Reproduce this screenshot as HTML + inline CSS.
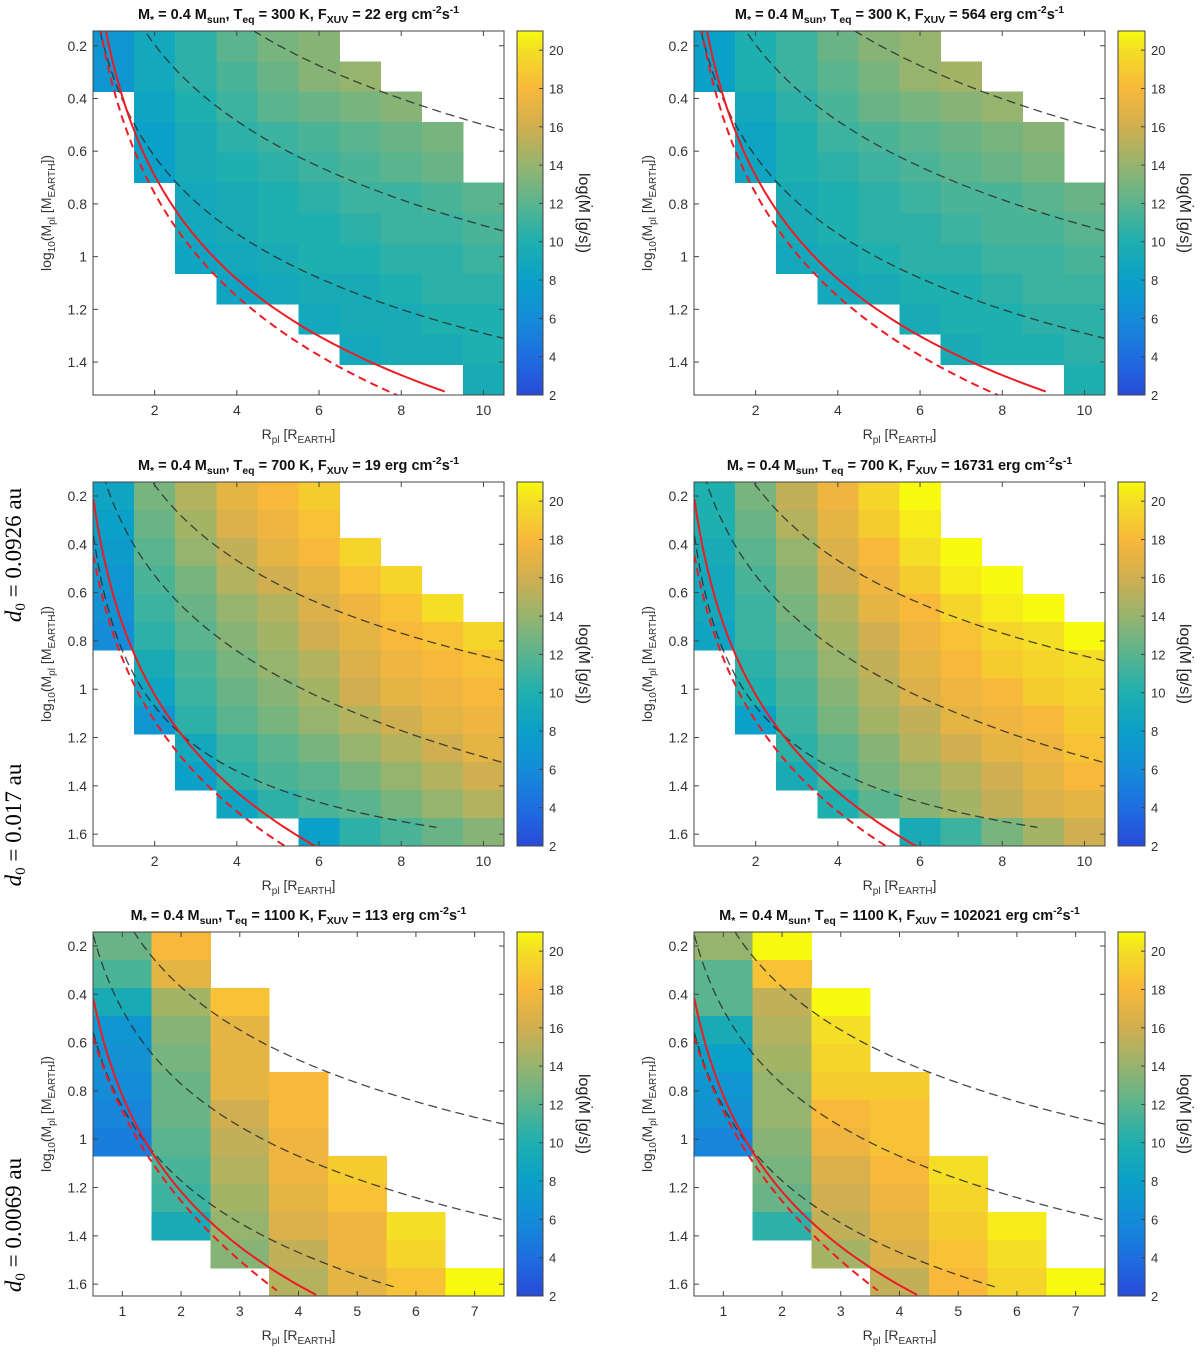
<!DOCTYPE html>
<html><head><meta charset="utf-8"><title>Mass-loss heatmaps</title>
<style>
html,body{margin:0;padding:0;background:#fff;}
svg{display:block;font-family:"Liberation Sans",sans-serif;}
</style></head>
<body>
<svg id="fig" width="1200" height="1352" viewBox="0 0 1200 1352" xmlns="http://www.w3.org/2000/svg"></svg>
<script>
// ---- Colour scale (log Mdot) ----
const cRange = [2, 21];
const cbTicks = [2, 4, 6, 8, 10, 12, 14, 16, 18, 20];
const cmapVals = [2, 4, 6, 8, 10, 12, 14, 16, 18, 20, 21];
const cmapRGB = [[40,75,215],[30,110,225],[20,140,215],[10,160,200],[30,175,175],[90,180,142],[150,180,110],[208,175,80],[248,184,58],[244,222,38],[248,250,15]];

// ---- Axes ticks ----
const xTicksWide = [2, 4, 6, 8, 10];
const xTicksNarrow = [1, 2, 3, 4, 5, 6, 7];
const yTicksTop = [0.2, 0.4, 0.6, 0.8, 1, 1.2, 1.4];
const yTicksLow = [0.2, 0.4, 0.6, 0.8, 1, 1.2, 1.4, 1.6];

// ---- Titles ----
const teqVals = [300, 300, 700, 700, 1100, 1100];
const fxuvVals = [22, 564, 19, 16731, 113, 102021];
const distLabels = ["0.0926", "0.017", "0.0069"];

// ---- Heatmap values (rows top->bottom, cols R=1..N); null = no data ----
const cellsP1 = [
 [7,9,10.5,12,13,13.5,null,null,null,null],
 [7,9,10.5,11.5,12.5,13.5,14,null,null,null],
 [null,8.5,10,11,12,12.5,13,13.5,null,null],
 [null,8,9.5,10.5,11,11.5,12,12.5,13,null],
 [null,8,9.5,10,10.5,11,11.5,12,12.5,null],
 [null,null,9,9.5,10,10.5,11,11,11.5,12],
 [null,null,9,9.5,10,10,10.5,11,11,11.5],
 [null,null,8.5,9,9.5,10,10,10.5,10.5,11],
 [null,null,null,8.5,9,9.5,9.5,10,10.5,10.5],
 [null,null,null,null,null,9,9.5,9.5,10,10],
 [null,null,null,null,null,null,9,9.5,9.5,10],
 [null,null,null,null,null,null,null,null,null,9.5]
];
const cellsP2 = [
 [8,10,11,12.5,13.5,14,null,null,null,null],
 [8,10,11,12,13,14,14.5,null,null,null],
 [null,9,10.5,11.5,12.5,13,13.5,14,null,null],
 [null,8.5,10,11,11.5,12,12.5,13,13.5,null],
 [null,8.5,10,10.5,11,11.5,12,12.5,13,null],
 [null,null,9.5,10,10.5,11,11.5,11.5,12,12.5],
 [null,null,9.5,10,10.5,10.5,11,11.5,11.5,12],
 [null,null,9,9.5,10,10.5,10.5,11,11,11.5],
 [null,null,null,9,9.5,10,10,10.5,11,11],
 [null,null,null,null,null,9.5,10,10,10.5,10.5],
 [null,null,null,null,null,null,9.5,10,10,10.5],
 [null,null,null,null,null,null,null,null,null,10]
];
const cellsP3 = [
 [8.5,13,15,17,18,19,null,null,null,null],
 [8,12.5,14.5,16.5,17.5,18.5,null,null,null,null],
 [7.5,12,14,15.5,17,18,19.5,null,null,null],
 [7,11.5,13,15,16,17,18.5,19.5,null,null],
 [6.5,11,12.5,14,15,16.5,17.5,18.5,20,null],
 [6,10.5,12,13.5,14.5,16,17,18,18.5,19.5],
 [null,9.5,11.5,13,14,15,16.5,17.5,18,18.5],
 [null,8.5,11,12.5,13.5,14.5,16,17,17.5,18],
 [null,7,10.5,12,13,14,15,16,17,17.5],
 [null,null,9,11,12,13,14,15,16,17],
 [null,null,8,10.5,11.5,12,13,14,15,16],
 [null,null,null,8.5,10.5,11.5,12,13,14,15],
 [null,null,null,null,null,8,10.5,11.5,12.5,13.5]
];
const cellsP4 = [
 [10,13,15.5,17.5,19.5,21,null,null,null,null],
 [10,12.5,15,17,19,20.5,null,null,null,null],
 [9.5,12,14,16.5,18,20,21,null,null,null],
 [9,11.5,13.5,16,17.5,19,20.5,21,null,null],
 [9,11,13,15,17,18,19.5,20.5,21,null],
 [8.5,11,12.5,14.5,16,17.5,18.5,19.5,20,21],
 [null,10.5,12,14,15.5,17,18,19,19.5,20],
 [null,10,11.5,13.5,15,16.5,17.5,18,19,19.5],
 [null,8,11,13,14.5,15.5,17,17.5,18,19],
 [null,null,10.5,12,13.5,15,16,17,17.5,18.5],
 [null,null,9.5,11.5,13,14,15,16,17,18],
 [null,null,null,10,12,13.5,14.5,15.5,16.5,17],
 [null,null,null,null,null,9.5,11,13,14.5,16]
];
const cellsP5 = [
 [12.5,18,null,null,null,null,null],
 [11.5,17,null,null,null,null,null],
 [9.5,14.5,18.5,null,null,null,null],
 [7,13.5,17,null,null,null,null],
 [6.5,13,17,null,null,null,null],
 [6,12.5,17,18,null,null,null],
 [5.5,12.5,16,18,null,null,null],
 [5,12,15.5,17.5,null,null,null],
 [null,11.5,15,17.5,19,null,null],
 [null,11,14.5,17,18.5,null,null],
 [null,9.5,14,16.5,17.5,20,null],
 [null,null,13.5,15.5,17.5,19.5,null],
 [null,null,null,15,17,18.5,21]
];
const cellsP6 = [
 [14,21,null,null,null,null,null],
 [12,18.5,null,null,null,null,null],
 [12,15.5,21,null,null,null,null],
 [9.5,15,20,null,null,null,null],
 [8,14.5,19.5,null,null,null,null],
 [7,14,19,19,null,null,null],
 [6.5,14,18,18.5,null,null,null],
 [5.5,13.5,17.5,18.5,null,null,null],
 [null,13,16.5,18,20,null,null],
 [null,12.5,16,17.5,19.5,null,null],
 [null,10.5,15.5,17,19,20.5,null],
 [null,null,14.5,16.5,18.5,20,null],
 [null,null,null,15.5,18,19.5,21]
];

// ---- Curves: R values and log10 M values (per row of panels) ----
const topBlackA_R = [4.40,5.50,7.50,10.48];
const topBlackA_M = [0.144,0.235,0.375,0.52];
const topBlackB_R = [1.81,2.52,3.51,4.48,5.50,7.50,10.48];
const topBlackB_M = [0.144,0.299,0.450,0.539,0.608,0.729,0.921];
const topBlackC_R = [0.67,1.51,2.52,3.51,4.48,5.50,6.49,8.49,10.48];
const topBlackC_M = [0.144,0.488,0.741,0.868,0.950,1.032,1.108,1.222,1.321];
const topRed_R = [0.79,1.20,1.51,2.52,3.51,4.48,5.50,6.49,7.50,9.06];
const topRed_M = [0.144,0.375,0.488,0.83,1.058,1.159,1.241,1.329,1.40,1.525];
const topRedDash_R = [0.67,1.51,2.52,3.51,4.48,5.50,6.49,8.05];
const topRedDash_M = [0.144,0.551,0.906,1.096,1.234,1.323,1.412,1.525];

const midBlackA_R = [1.97,2.52,3.51,4.48,5.50,6.49,7.50,8.49,10.48];
const midBlackA_M = [0.142,0.269,0.407,0.518,0.607,0.669,0.745,0.793,0.883];
const midBlackB_R = [0.75,1.51,2.52,3.51,4.48,5.5,6.49,7.5,8.49,10.48];
const midBlackB_M = [0.142,0.338,0.655,0.793,0.904,1.0,1.07,1.139,1.207,1.284];
const midBlackC_R = [0.51,1.51,2.52,3.51,4.48,5.5,6.49,7.5,8.86];
const midBlackC_M = [0.352,0.973,1.18,1.29,1.36,1.415,1.47,1.525,1.615];
const midRed_R = [0.51,0.91,1.51,2.52,3.51,4.48,5.5,5.94];
const midRed_M = [0.228,0.531,0.849,1.18,1.36,1.497,1.594,1.649];
const midRedDash_R = [0.51,1.51,2.52,3.51,4.48,5.21];
const midRedDash_M = [0.448,0.973,1.263,1.442,1.566,1.649];

const lowBlackA_R = [1.19,1.52,2.50,3.51,4.50,5.49,7.49];
const lowBlackA_M = [0.142,0.241,0.476,0.614,0.718,0.807,0.938];
const lowBlackB_R = [0.505,0.79,1.50,2.50,3.51,4.50,5.49,7.49];
const lowBlackB_M = [0.142,0.379,0.643,0.862,1.015,1.111,1.208,1.339];
const lowBlackC_R = [0.505,1.21,1.50,2.50,3.51,4.50,5.62];
const lowBlackC_M = [0.559,0.932,1.07,1.263,1.415,1.512,1.615];
const lowRed_R = [0.505,0.79,1.50,2.50,3.51,4.30];
const lowRed_M = [0.421,0.669,1.07,1.333,1.527,1.65];
const lowRedDash_R = [0.505,1.01,1.50,2.50,3.51,3.63];
const lowRedDash_M = [0.575,0.890,1.111,1.359,1.594,1.65];

const NS = "http://www.w3.org/2000/svg";
const svg = document.getElementById("fig");
function mk(tag, attrs, parent) {
  const e = document.createElementNS(NS, tag);
  for (const k in attrs) e.setAttribute(k, attrs[k]);
  (parent || svg).appendChild(e);
  return e;
}
function cmap(v) {
  v = Math.max(cRange[0], Math.min(cRange[1], v));
  for (let i = 0; i < cmapVals.length - 1; i++) {
    if (v <= cmapVals[i + 1]) {
      const t = (v - cmapVals[i]) / (cmapVals[i + 1] - cmapVals[i]);
      const a = cmapRGB[i], b = cmapRGB[i + 1];
      return "rgb(" + [0,1,2].map(j => Math.round(a[j] + (b[j] - a[j]) * t)).join(",") + ")";
    }
  }
  return "rgb(248,250,15)";
}
const defs = mk("defs", {});
const grad = mk("linearGradient", {id: "cbgrad", x1: 0, y1: 1, x2: 0, y2: 0}, defs);
cmapVals.forEach((v, i) => {
  mk("stop", {offset: ((v - cRange[0]) / (cRange[1] - cRange[0])).toFixed(4), "stop-color": cmap(v)}, grad);
});

// least-squares quadratic fit of M vs log10(R): smooths the read-off samples
function fitQuad(Rs, Ms) {
  const u = Rs.map(r => Math.log10(r));
  const S = [[0,0,0],[0,0,0],[0,0,0]], B = [0,0,0];
  u.forEach((x, i) => {
    const v = [1, x, x * x];
    for (let a = 0; a < 3; a++) { B[a] += v[a] * Ms[i]; for (let b = 0; b < 3; b++) S[a][b] += v[a] * v[b]; }
  });
  // solve 3x3 via Gaussian elimination
  const A = S.map((r, i) => r.concat([B[i]]));
  for (let i = 0; i < 3; i++) {
    let p = i; for (let k = i + 1; k < 3; k++) if (Math.abs(A[k][i]) > Math.abs(A[p][i])) p = k;
    [A[i], A[p]] = [A[p], A[i]];
    for (let k = i + 1; k < 3; k++) { const f = A[k][i] / A[i][i]; for (let j = i; j < 4; j++) A[k][j] -= f * A[i][j]; }
  }
  const c = [0,0,0];
  for (let i = 2; i >= 0; i--) { let s = A[i][3]; for (let j = i + 1; j < 3; j++) s -= A[i][j] * c[j]; c[i] = s / A[i][i]; }
  return R => { const x = Math.log10(R); return c[0] + c[1] * x + c[2] * x * x; };
}

function addSubText(parent, x, y, parts, attrs) {
  const t = mk("text", Object.assign({x: x, y: y}, attrs), parent);
  parts.forEach(p => {
    const ts = mk("tspan", {}, t);
    if (p[1] === "sub") { ts.setAttribute("dy", "4"); ts.setAttribute("font-size", "0.72em"); }
    else if (p[1] === "sup") { ts.setAttribute("dy", "-6"); ts.setAttribute("font-size", "0.72em"); }
    else if (p[1] === "back") { ts.setAttribute("dy", "-4"); }
    else if (p[1] === "down") { ts.setAttribute("dy", "6"); }
    ts.textContent = p[0];
  });
  return t;
}

const panels = [
  {ax:[93,31,504,395], r:[0.5,10.5], m:[0.144,1.525], xt:xTicksWide, yt:yTicksTop, cb:[517,543], cells:cellsP1, curves:"top"},
  {ax:[694,31,1105,395], r:[0.5,10.5], m:[0.144,1.525], xt:xTicksWide, yt:yTicksTop, cb:[1118,1145], cells:cellsP2, curves:"top"},
  {ax:[93,482,504,846], r:[0.5,10.5], m:[0.142,1.649], xt:xTicksWide, yt:yTicksLow, cb:[517,543], cells:cellsP3, curves:"mid"},
  {ax:[694,482,1105,846], r:[0.5,10.5], m:[0.142,1.649], xt:xTicksWide, yt:yTicksLow, cb:[1118,1145], cells:cellsP4, curves:"mid"},
  {ax:[93,932,504,1296], r:[0.5,7.5], m:[0.142,1.649], xt:xTicksNarrow, yt:yTicksLow, cb:[517,543], cells:cellsP5, curves:"low"},
  {ax:[694,932,1105,1296], r:[0.5,7.5], m:[0.142,1.649], xt:xTicksNarrow, yt:yTicksLow, cb:[1118,1145], cells:cellsP6, curves:"low"}
];
const curveSets = {
  top: [[topBlackA_R,topBlackA_M,"k"],[topBlackB_R,topBlackB_M,"k"],[topBlackC_R,topBlackC_M,"k"],[topRed_R,topRed_M,"r"],[topRedDash_R,topRedDash_M,"rd"]],
  mid: [[midBlackA_R,midBlackA_M,"k"],[midBlackB_R,midBlackB_M,"k"],[midBlackC_R,midBlackC_M,"k"],[midRed_R,midRed_M,"r"],[midRedDash_R,midRedDash_M,"rd"]],
  low: [[lowBlackA_R,lowBlackA_M,"k"],[lowBlackB_R,lowBlackB_M,"k"],[lowBlackC_R,lowBlackC_M,"k"],[lowRed_R,lowRed_M,"r"],[lowRedDash_R,lowRedDash_M,"rd"]]
};

panels.forEach((P, pi) => {
  const [x0, y0, x1, y1] = P.ax;
  const xs = R => x0 + (R - P.r[0]) / (P.r[1] - P.r[0]) * (x1 - x0);
  const ys = M => y0 + (M - P.m[0]) / (P.m[1] - P.m[0]) * (y1 - y0);
  const g = mk("g", {});
  
  

  const cp = mk("clipPath", {id: "clip" + pi}, defs);
  mk("rect", {x: x0, y: y0, width: x1 - x0, height: y1 - y0}, cp);

  const nRows = P.cells.length;
  const cg = mk("g", {"shape-rendering": "crispEdges"}, g);
  
  
  P.cells.forEach((row, ri) => {
    const mTop = P.m[0] + ri * (P.m[1] - P.m[0]) / nRows;
    const mBot = P.m[0] + (ri + 1) * (P.m[1] - P.m[0]) / nRows;
    row.forEach((v, ci) => {
      if (v === null) return;
      const R = ci + 1;
      const xa = xs(R - 0.5), xb = xs(R + 0.5), ya = ys(mTop), yb = ys(mBot);
      const rc = mk("rect", {x: xa.toFixed(2), y: ya.toFixed(2), width: (xb - xa + 0.4).toFixed(2), height: (yb - ya + 0.4).toFixed(2), fill: cmap(v)}, cg);
      
      
    });
  });

  const lg = mk("g", {"clip-path": "url(#clip" + pi + ")", fill: "none"}, g);
  curveSets[P.curves].forEach(c => {
    const f = fitQuad(c[0], c[1]);
    const rA = c[0][0], rB = c[0][c[0].length - 1];
    let d = "";
    for (let i = 0; i <= 80; i++) {
      const R = rA * Math.pow(rB / rA, i / 80);
      d += (i ? " L" : "M") + xs(R).toFixed(1) + "," + ys(f(R)).toFixed(1);
    }
    const attrs = {d: d};
    if (c[2] === "k") { attrs.stroke = "#2a2a2a"; attrs["stroke-width"] = 1.3; attrs["stroke-dasharray"] = "9,5"; attrs["stroke-opacity"] = 0.85; }
    else if (c[2] === "r") { attrs.stroke = "#ec1c24"; attrs["stroke-width"] = 2; }
    else { attrs.stroke = "#ec1c24"; attrs["stroke-width"] = 2; attrs["stroke-dasharray"] = "8,5"; }
    const p = mk("path", attrs, lg);
    
    
  });

  const box = mk("rect", {x: x0, y: y0, width: x1 - x0, height: y1 - y0, fill: "none", stroke: "#444", "stroke-width": 1}, g);
  
  

  P.xt.forEach(t => {
    const x = xs(t);
    mk("line", {x1: x, y1: y1, x2: x, y2: y1 - 5, stroke: "#444"}, g);
    mk("line", {x1: x, y1: y0, x2: x, y2: y0 + 5, stroke: "#444"}, g);
    const tl = mk("text", {x: x, y: y1 + 20, "text-anchor": "middle", "font-size": 14, fill: "#333"}, g);
    
    
    tl.textContent = String(t);
  });
  P.yt.forEach(t => {
    const y = ys(t);
    mk("line", {x1: x0, y1: y, x2: x0 + 5, y2: y, stroke: "#444"}, g);
    mk("line", {x1: x1, y1: y, x2: x1 - 5, y2: y, stroke: "#444"}, g);
    const tl = mk("text", {x: x0 - 6, y: y + 5, "text-anchor": "end", "font-size": 14, fill: "#333"}, g);
    
    
    tl.textContent = String(t);
  });

  const cx = (x0 + x1) / 2, cy = (y0 + y1) / 2;
  const title = addSubText(g, cx, y0 - 12, [
    ["M"], ["*", "sub"], [" = 0.4 M", "back"], ["sun", "sub"], [", T", "back"], ["eq", "sub"],
    [" = " + teqVals[pi] + " K, F", "back"], ["XUV", "sub"], [" = " + fxuvVals[pi] + " erg cm", "back"],
    ["-2", "sup"], ["s", "down"], ["-1", "sup"]
  ], {"text-anchor": "middle", "font-size": 14.5, "font-weight": "bold", fill: "#111"});
  
  

  const xt = addSubText(g, cx, y1 + 44, [["R"], ["pl", "sub"], [" [R", "back"], ["EARTH", "sub"], ["]", "back"]],
    {"text-anchor": "middle", "font-size": 14, fill: "#333"});
  
  

  const ygp = mk("g", {transform: "translate(" + (x0 - 42) + "," + cy + ") rotate(-90)"}, g);
  const yt = addSubText(ygp, 0, 0, [["log"], ["10", "sub"], ["(M", "back"], ["pl", "sub"], [" [M", "back"], ["EARTH", "sub"], ["])", "back"]],
    {"text-anchor": "middle", "font-size": 14, fill: "#333"});
  
  

  const [cb0, cb1] = P.cb;
  const cs = v => y1 - (v - cRange[0]) / (cRange[1] - cRange[0]) * (y1 - y0);
  const cbr = mk("rect", {x: cb0, y: y0, width: cb1 - cb0, height: y1 - y0, fill: "url(#cbgrad)", stroke: "#444", "stroke-width": 1}, g);
  
  
  cbTicks.forEach(t => {
    const y = cs(t);
    mk("line", {x1: cb1, y1: y, x2: cb1 - 4, y2: y, stroke: "#444"}, g);
    const tl = mk("text", {x: cb1 + 6, y: y + 5, "font-size": 13, fill: "#333"}, g);
    
    
    tl.textContent = String(t);
  });
  const cgp = mk("g", {transform: "translate(" + (cb0 + 62) + "," + cy + ") rotate(90)"}, g);
  const ct = mk("text", {x: 0, y: 0, "text-anchor": "middle", "font-size": 16, fill: "#222"}, cgp);
  
  
  ct.textContent = "log(\u1E40 [g/s])";
});

const distY = [555, 825, 1225];
distY.forEach((y, i) => {
  const gp = mk("g", {transform: "translate(21," + y + ") rotate(-90)"});
  const t = mk("text", {x: 0, y: 0, "text-anchor": "middle", "font-size": 23, fill: "#000", "font-family": "Liberation Serif, serif"}, gp);
  
  
  const a = mk("tspan", {"font-style": "italic"}, t); a.textContent = "d";
  const b = mk("tspan", {dy: 4, "font-size": 15}, t); b.textContent = "0";
  const c = mk("tspan", {dy: -4}, t); c.textContent = " = " + distLabels[i] + " au";
});
</script>
</body></html>
